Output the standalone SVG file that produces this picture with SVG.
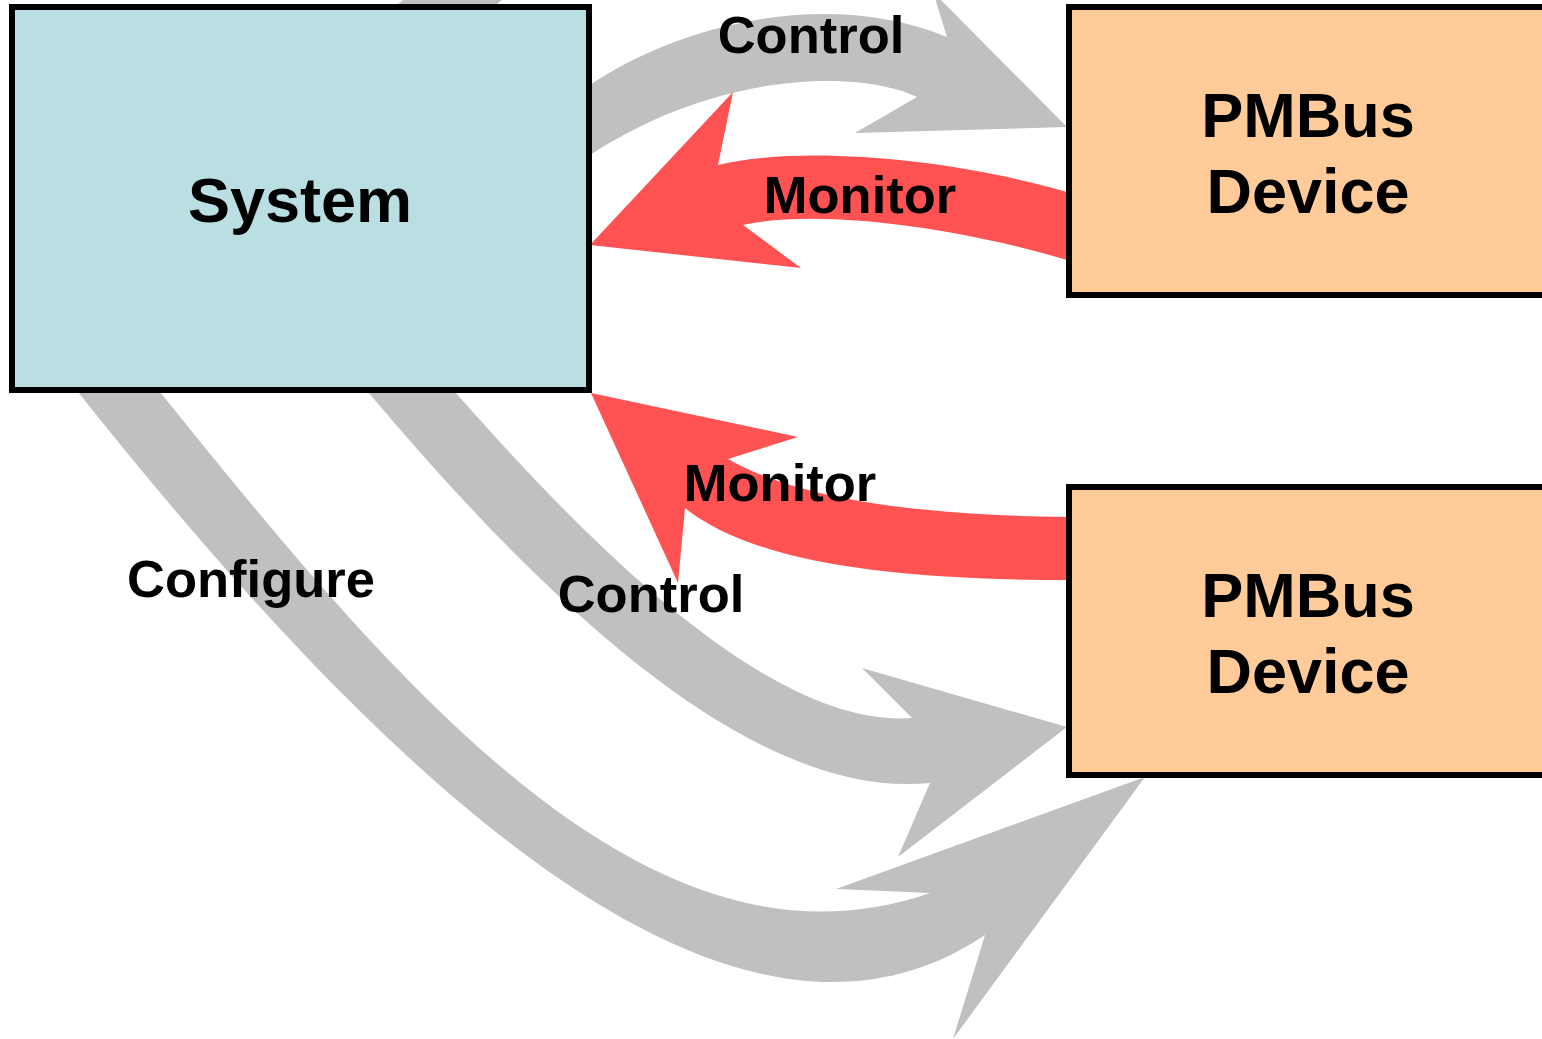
<svg xmlns="http://www.w3.org/2000/svg" width="1542" height="1039" viewBox="0 0 1542 1039">
<style>
.box{stroke:#000;stroke-width:6}
.sys{fill:#BADFE2}
.dev{fill:#FFCC99}
.nt{font-family:"Liberation Sans",Arial,sans-serif;font-weight:bold;font-size:63px;fill:#000;text-anchor:middle}
.lb{font-family:"Liberation Sans",Arial,sans-serif;font-weight:bold;font-size:52.5px;fill:#000;text-anchor:middle}
.ga{fill:#C0C0C0}
.ra{fill:#FF5252}
</style>
<rect width="1542" height="1039" fill="#fff"/>
<g id="connectors">
  <polygon class="ga" points="398,4 403,0 502,0 497,4"/>
  <!-- Control (top) -->
  <path class="ga" d="M575,95 L590,85 C670,30 820,-15 947,37 L933,-8 L1067,127 L855,133 L917,97 C860,70 720,70 590,155 L575,165 Z"/>
  <!-- Monitor (top) -->
  <path class="ra" d="M590,245 L733,92 L718,165 C800,145 950,158 1067,192 L1080,192 L1080,262 L1067,260 C960,228 820,208 743,225 L801,268 Z"/>
  <!-- Monitor (lower) -->
  <path class="ra" d="M591,393 L798,437 L728,459 C790,495 900,515 1067,517 L1080,517 L1080,580 L1067,580 C880,580 750,560 685,508 L678,583 Z"/>
  <!-- Control (lower) -->
  <path class="ga" d="M445,380 L455,392 C560,510 760,730 912,718 L862,668 L1067,727 L898,857 L930,783 C760,800 560,620 368,392 L358,380 Z"/>
  <!-- Configure -->
  <path class="ga" d="M150,380 L160,392 C400,690 650,990 930,893 L836,889 L1145,777 L953,1039 L985,935 C740,1100 410,810 78,392 L68,380 Z"/>
  <text class="lb" x="811" y="53">Control</text>
  <text class="lb" x="860" y="213">Monitor</text>
  <text class="lb" x="780" y="501">Monitor</text>
  <text class="lb" x="651" y="612">Control</text>
  <text class="lb" x="251" y="597">Configure</text>
</g>
<g id="system">
  <rect class="box sys" x="12" y="7" width="577" height="383"/>
  <text class="nt" x="300" y="222">System</text>
</g>
<g id="pmbus1">
  <rect class="box dev" x="1069" y="7" width="480" height="288"/>
  <text class="nt" x="1308" y="137">PMBus</text>
  <text class="nt" x="1308" y="213">Device</text>
</g>
<g id="pmbus2">
  <rect class="box dev" x="1069" y="487" width="480" height="288"/>
  <text class="nt" x="1308" y="617">PMBus</text>
  <text class="nt" x="1308" y="693">Device</text>
</g>
</svg>
